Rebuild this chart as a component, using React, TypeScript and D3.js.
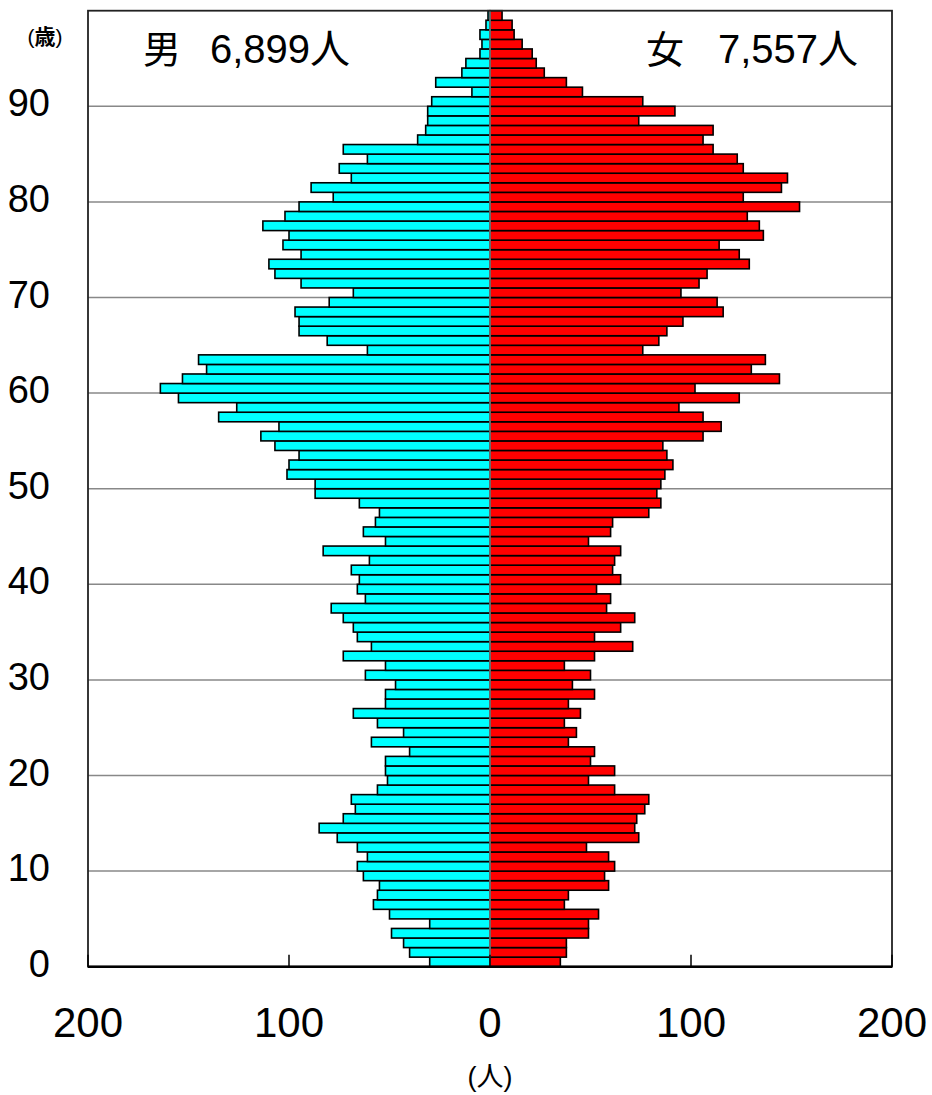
import React from "react";
import * as d3 from "d3";

const ages: number[] = d3.range(0, 100);
const male: number[] = [
  30, 40, 43, 49, 30, 50, 58, 56, 55, 63,
  66, 61, 66, 76, 85, 73, 67, 69, 56, 51,
  52, 52, 40, 59, 43, 56, 68, 52, 52, 47,
  62, 52, 73, 59, 66, 68, 73, 79, 62, 66,
  65, 69, 60, 83, 52, 63, 57, 55, 65, 87,
  87, 101, 100, 95, 107, 114, 105, 135, 126, 155,
  164, 153, 141, 145, 61, 81, 95, 95, 97, 80,
  68, 94, 107, 110, 94, 103, 100, 113, 102, 95,
  78, 89, 69, 75, 61, 73, 36, 32, 31, 31,
  29, 9, 27, 14, 12, 5, 4, 5, 2, 1,
];
const female: number[] = [
  35, 38, 38, 49, 49, 54, 37, 39, 59, 57,
  62, 59, 48, 74, 72, 73, 77, 79, 62, 49,
  62, 50, 52, 39, 43, 37, 45, 39, 52, 41,
  50, 37, 52, 71, 52, 65, 72, 58, 60, 53,
  65, 61, 62, 65, 49, 60, 61, 79, 85, 83,
  85, 87, 91, 88, 86, 106, 115, 106, 94, 124,
  102, 144, 130, 137, 76, 84, 88, 96, 116, 113,
  95, 104, 108, 129, 124, 114, 136, 134, 128, 154,
  126, 145, 148, 126, 123, 111, 106, 111, 74, 92,
  76, 46, 38, 27, 23, 21, 16, 12, 11, 6,
];
const yTicks: number[] = [0, 10, 20, 30, 40, 50, 60, 70, 80, 90];
const xTicks: number[] = [200, 100, 0, 100, 200];
const xTickSide: number[] = [-1, -1, 0, 1, 1];
const maleLabel = "男";
const maleTotal = "6,899";
const femaleLabel = "女";
const femaleTotal = "7,557";

const LAT = "'Liberation Sans', Arial, sans-serif";
const CJK = "'Noto Sans CJK JP', 'Noto Sans', sans-serif";

export default function App() {
  const W = 932, H = 1095;
  const left = 88, right = 892, cx = 490, top = 10.7, bottom = 966.7;
  const xM = d3.scaleLinear().domain([0, 200]).range([cx, left]);
  const xF = d3.scaleLinear().domain([0, 200]).range([cx, right]);
  const y = d3.scaleLinear().domain([0, 100]).range([bottom, top]);

  return (
    <svg width={W} height={H} style={{ position: "absolute", left: 0, top: 0, background: "#fff" }}>
      <rect x={0} y={0} width={W} height={H} fill="#fff" />
      {yTicks.filter((t) => t > 0).map((t) => (
        <line key={"g" + t} x1={left} x2={right} y1={y(t)} y2={y(t)} stroke="#888" strokeWidth={1.5} />
      ))}
      {ages.map((a, i) => (
        <rect key={"m" + a} x={xM(male[i])} y={y(a + 1)} width={cx - xM(male[i])} height={y(a) - y(a + 1)}
          fill="#00FFFF" stroke="#000" strokeWidth={1.6} />
      ))}
      {ages.map((a, i) => (
        <rect key={"f" + a} x={cx} y={y(a + 1)} width={xF(female[i]) - cx} height={y(a) - y(a + 1)}
          fill="#FF0000" stroke="#000" strokeWidth={1.6} />
      ))}
      <line x1={cx} x2={cx} y1={top} y2={bottom} stroke="#888" strokeWidth={1.5} />
      <rect x={left} y={top} width={right - left} height={bottom - top} fill="none" stroke="#222" strokeWidth={1.8} />
      <line x1={left} x2={right} y1={bottom} y2={bottom} stroke="#000" strokeWidth={2.5} />
      {xTicks.map((t, i) => {
        const px = xTickSide[i] < 0 ? xM(t) : xF(t);
        return <line key={"t" + i} x1={px} x2={px} y1={bottom} y2={bottom - 12} stroke="#000" strokeWidth={1.5} />;
      })}
      {yTicks.map((t) => (
        <text key={"yl" + t} x={50} y={y(t) + 10} textAnchor="end" fontFamily={LAT} fontSize={38} fill="#000">{t}</text>
      ))}
      <text x={45} y={44} textAnchor="middle" fontFamily={LAT} fontSize={21} fill="#000">(<tspan fontFamily={CJK} fontWeight="bold">歳</tspan>)</text>
      {xTicks.map((t, i) => {
        const px = xTickSide[i] < 0 ? xM(t) : xF(t);
        return <text key={"xl" + i} x={px} y={1037} textAnchor="middle" fontFamily={LAT} fontSize={42} fill="#000">{t}</text>;
      })}
      <text x={cx} y={1086} textAnchor="middle" fontFamily={LAT} fontSize={27} fill="#000">(<tspan fontFamily={CJK}>人</tspan>)</text>
      <text x={143} y={63} fontFamily={CJK} fontSize={38} fill="#000">{maleLabel}</text>
      <text x={210} y={63} fontFamily={LAT} fontSize={40} fill="#000">{maleTotal}<tspan fontFamily={CJK}>人</tspan></text>
      <text x={646} y={63} fontFamily={CJK} fontSize={38} fill="#000">{femaleLabel}</text>
      <text x={718} y={63} fontFamily={LAT} fontSize={40} fill="#000">{femaleTotal}<tspan fontFamily={CJK}>人</tspan></text>
    </svg>
  );
}
